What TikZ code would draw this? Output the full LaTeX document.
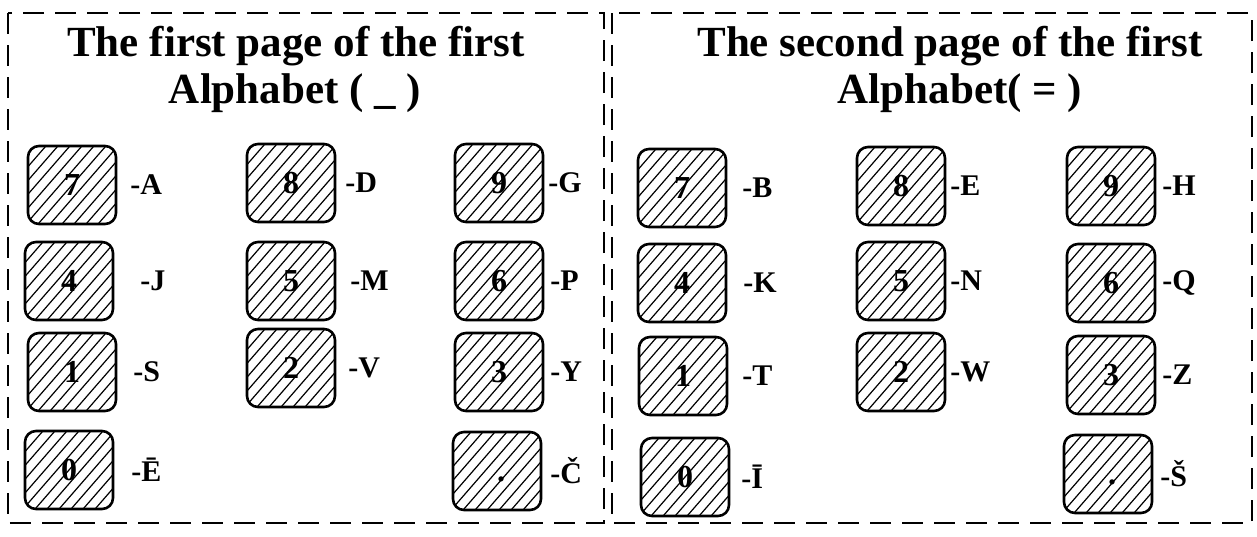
\documentclass[tikz,border=0pt]{standalone}
\usepackage{fontspec}
\setmainfont{Liberation Serif}
\begin{document}
\begin{tikzpicture}[x=0.5pt,y=-0.5pt,
  panel/.style={draw, line width=1.2pt, dash pattern=on 10.5pt off 5.5pt},
  title/.style={font=\fontsize{21.5}{26}\selectfont\bfseries, inner sep=0pt},
  key/.style={draw, line width=1.3pt, rounded corners=5.5pt, minimum width=44pt, minimum height=39pt, inner sep=0pt,
    font=\fontsize{16}{18}\selectfont\bfseries,
    path picture={\foreach \i in {-9,...,9} \draw[line width=0.6pt, sharp corners] ([xshift=\i*6pt]path picture bounding box.center) ++(-20pt,-23pt) -- ++(40pt,46pt);}},
  lab/.style={anchor=west, inner sep=0pt, font=\fontsize{15}{17}\selectfont\bfseries}]
\useasboundingbox (0,0) rectangle (1257,536);
% panels
\draw[panel] (8,13) rectangle (604,523);
\draw[panel] (612,13) rectangle (1252,523);
% titles
\node[title] (t1a) at (296,46) {The first page of the first};
\node[title] (t1b) at (295,93) {Alphabet ( \_ )};
\node[title] (t2a) at (950,46) {The second page of the first};
\node[title] (t2b) at (960,93) {Alphabet( = )};
% left keys
\node[key] (k7) at (72,185) {7};   \node[lab] (lA) at (130,185) {-A};
\node[key] (k8) at (291,183) {8};  \node[lab] (lD) at (345,183) {-D};
\node[key] (k9) at (499,183) {9};  \node[lab] (lG) at (548,183) {-G};
\node[key] (k4) at (69,281) {4};   \node[lab] (lJ) at (140,281) {-J};
\node[key] (k5) at (291,281) {5};  \node[lab] (lM) at (350,281) {-M};
\node[key] (k6) at (499,281) {6};  \node[lab] (lP) at (550,281) {-P};
\node[key] (k1) at (72,372) {1};   \node[lab] (lS) at (133,372) {-S};
\node[key] (k2) at (291,368) {2};  \node[lab] (lV) at (348,368) {-V};
\node[key] (k3) at (499,372) {3};  \node[lab] (lY) at (550,372) {-Y};
\node[key] (k0) at (69,470) {0};   \node[lab] (lE) at (131,470) {-Ē};
\node[key] (kd) at (497,471) {\vphantom{0}\hspace{4pt}.};  \node[lab] (lC) at (550,471) {-Č};
% right keys
\node[key] (r7) at (682,188) {7};  \node[lab] (rB) at (742,188) {-B};
\node[key] (r8) at (901,186) {8};  \node[lab] (rE) at (950,186) {-E};
\node[key] (r9) at (1111,186) {9}; \node[lab] (rH) at (1162,186) {-H};
\node[key] (r4) at (682,283) {4};  \node[lab] (rK) at (743,283) {-K};
\node[key] (r5) at (901,281) {5};  \node[lab] (rN) at (950,281) {-N};
\node[key] (r6) at (1111,283) {6}; \node[lab] (rQ) at (1162,283) {-Q};
\node[key] (r1) at (683,376) {1};  \node[lab] (rT) at (742,376) {-T};
\node[key] (r2) at (901,372) {2};  \node[lab] (rW) at (950,372) {-W};
\node[key] (r3) at (1111,375) {3}; \node[lab] (rZ) at (1162,375) {-Z};
\node[key] (r0) at (685,477) {0};  \node[lab] (rI) at (741,477) {-Ī};
\node[key] (rd) at (1108,474) {\vphantom{0}\hspace{4pt}.}; \node[lab] (rS) at (1160,474) {-Š};
\end{tikzpicture}
\end{document}
